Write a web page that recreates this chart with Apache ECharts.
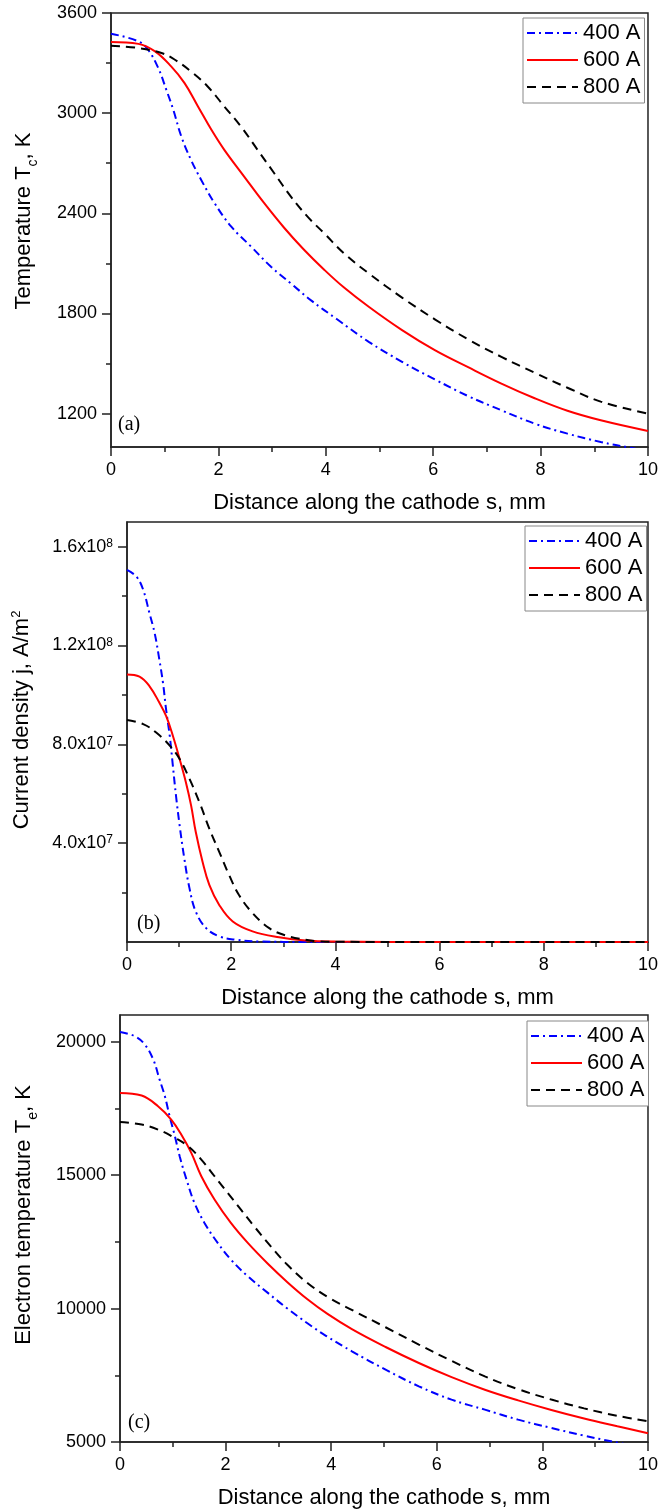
<!DOCTYPE html>
<html><head><meta charset="utf-8">
<script src="https://cdn.jsdelivr.net/npm/echarts@6/dist/echarts.min.js"></script>
<style>html,body{margin:0;padding:0;background:#fff}#c{width:661px;height:1512px}</style>
</head><body><div id="c"></div>
<script>
const seriesNames = ['400 A', '600 A', '800 A'];
const xTitle = 'Distance along the cathode s, mm';
const xTickValues = [0, 2, 4, 6, 8, 10];
const xMinorValues = [1, 3, 5, 7, 9];

// Panel (a): cathode temperature, K
const a400x = [0, 0.51, 0.69, 0.88, 1.03, 1.16, 1.31, 1.49, 1.68, 1.93, 2.24, 2.61, 2.98, 3.35, 3.72, 4.21, 4.8, 5.42, 6.03, 6.65, 7.27, 7.89, 8.5, 9.12, 9.68, 10];
const a400y = [3476, 3430, 3380, 3270, 3140, 3020, 2860, 2720, 2600, 2460, 2320, 2200, 2080, 1980, 1880, 1765, 1630, 1510, 1405, 1305, 1220, 1140, 1080, 1030, 995, 975];
const a600x = [0, 0.51, 0.82, 1.12, 1.37, 1.62, 1.87, 2.11, 2.48, 2.85, 3.22, 3.59, 3.97, 4.34, 4.8, 5.42, 6.03, 6.65, 7.27, 7.89, 8.5, 9.12, 10];
const a600y = [3426, 3415, 3370, 3280, 3180, 3040, 2900, 2780, 2620, 2462, 2315, 2183, 2062, 1955, 1840, 1700, 1580, 1478, 1380, 1292, 1217, 1160, 1096];
const a800x = [0, 0.51, 0.94, 1.19, 1.49, 1.8, 2.11, 2.42, 2.73, 3.04, 3.35, 3.66, 3.97, 4.34, 4.8, 5.42, 6.03, 6.65, 7.27, 7.89, 8.5, 9.12, 10];
const a800y = [3404, 3390, 3360, 3320, 3250, 3160, 3040, 2920, 2780, 2640, 2500, 2380, 2280, 2160, 2040, 1895, 1765, 1645, 1540, 1445, 1355, 1272, 1200];
const aYTicks = [1200, 1800, 2400, 3000, 3600];
const aYMinor = [1500, 2100, 2700, 3300];

// Panel (b): current density, A/m^2
const b400x = [0, 0.18, 0.31, 0.43, 0.53, 0.62, 0.69, 0.75, 0.82, 0.88, 0.94, 1.01, 1.1, 1.2, 1.32, 1.52, 1.77, 2.09, 2.54, 3, 4, 6, 8, 10];
const b400y = [15.06e7, 14.79e7, 14.26e7, 13.32e7, 12.51e7, 11.44e7, 10.5e7, 9.42e7, 8.35e7, 7.14e7, 5.93e7, 4.72e7, 3.38e7, 2.17e7, 1.23e7, 0.56e7, 0.23e7, 0.09e7, 0.02e7, 0.005e7, 0, 0, 0, 0];
const b600x = [0, 0.24, 0.43, 0.62, 0.75, 0.88, 1.01, 1.13, 1.23, 1.32, 1.45, 1.58, 1.77, 2.03, 2.41, 2.92, 3.43, 4, 6, 8, 10];
const b600y = [10.83e7, 10.74e7, 10.36e7, 9.69e7, 9.15e7, 8.35e7, 7.41e7, 6.47e7, 5.53e7, 4.45e7, 3.25e7, 2.31e7, 1.5e7, 0.83e7, 0.43e7, 0.19e7, 0.06e7, 0.02e7, 0, 0, 0];
const b800x = [0, 0.31, 0.56, 0.82, 1.01, 1.2, 1.39, 1.58, 1.77, 1.96, 2.15, 2.41, 2.73, 3.04, 3.43, 3.68, 4, 6, 8, 10];
const b800y = [8.99e7, 8.82e7, 8.48e7, 7.95e7, 7.41e7, 6.6e7, 5.66e7, 4.59e7, 3.65e7, 2.71e7, 1.9e7, 1.17e7, 0.56e7, 0.27e7, 0.09e7, 0.03e7, 0.01e7, 0, 0, 0];
const bYTicks = [4e7, 8e7, 1.2e8, 1.6e8];
const bYMant = ['4.0', '8.0', '1.2', '1.6'];
const bYExp = ['7', '7', '8', '8'];
const bYMinor = [2e7, 6e7, 1e8, 1.4e8];

// Panel (c): electron temperature, K
const c400x = [0, 0.28, 0.47, 0.63, 0.75, 0.85, 0.94, 1.04, 1.13, 1.26, 1.41, 1.6, 1.85, 2.1, 2.42, 2.8, 3.17, 3.55, 3.9, 4.4, 5.03, 5.66, 6.28, 6.91, 7.54, 8.17, 8.79, 9.3, 10];
const c400y = [20366, 20204, 19892, 19330, 18580, 17956, 17206, 16457, 15708, 14833, 13959, 13209, 12460, 11836, 11211, 10587, 10000, 9450, 8980, 8390, 7711, 7087, 6587, 6213, 5838, 5526, 5238, 5026, 4740];
const c600x = [0, 0.41, 0.72, 0.97, 1.16, 1.35, 1.54, 1.79, 2.1, 2.42, 2.8, 3.17, 3.55, 3.93, 4.4, 5.03, 5.66, 6.28, 6.91, 7.54, 8.17, 8.79, 9.42, 10];
const c600y = [18081, 17981, 17581, 17081, 16519, 15832, 14958, 14084, 13209, 12460, 11680, 10990, 10350, 9800, 9220, 8560, 7960, 7430, 6960, 6560, 6200, 5880, 5590, 5330];
const c800x = [0, 0.41, 0.72, 1.04, 1.29, 1.54, 1.79, 2.04, 2.29, 2.54, 2.86, 3.17, 3.55, 3.96, 4.4, 5.03, 5.66, 6.28, 6.91, 7.54, 8.17, 8.79, 9.42, 10];
const c800y = [16994, 16894, 16707, 16394, 16082, 15582, 14958, 14333, 13709, 13084, 12320, 11640, 10960, 10400, 9940, 9300, 8650, 8040, 7460, 6980, 6590, 6260, 5980, 5780];
const cYTicks = [5000, 10000, 15000, 20000];
const cYMinor = [7500, 12500, 17500];

const FONT = '"Liberation Sans", Arial, Helvetica, sans-serif';
const SERIF = '"Liberation Serif", "Times New Roman", serif';
const AX = '#222';
const lineStyles = [
  { color: '#0000ff', type: [8, 4, 2, 4] },
  { color: '#ff0000', type: 'solid' },
  { color: '#000000', type: [9, 6] }
];
function zip(xs, ys) { return xs.map((x, i) => [x, ys[i]]); }

const panels = [
  { grid: { left: 111, top: 13, right: 10, height: 434 }, yMin: 1000, yMax: 3600, yTicks: aYTicks, yMinor: aYMinor,
    yName: '{m|Temperature T}{s|c}{m|, K}', nameGap: 76, namePad: 18,
    data: [zip(a400x, a400y), zip(a600x, a600y), zip(a800x, a800y)],
    legend: { left: 523, top: 18 }, tag: '(a)', tagX: 118, tagY: 425 },
  { grid: { left: 127, top: 522, right: 10, height: 420 }, yMin: 0, yMax: 1.7e8, yTicks: bYTicks, yMinor: bYMinor,
    yName: '{m|Current density j, A/m}{p|2}', nameGap: 94, namePad: 24, sci: true,
    data: [zip(b400x, b400y), zip(b600x, b600y), zip(b800x, b800y)],
    legend: { left: 525, top: 526 }, tag: '(b)', tagX: 137, tagY: 924 },
  { grid: { left: 120, top: 1015, right: 10, height: 427 }, yMin: 5000, yMax: 21000, yTicks: cYTicks, yMinor: cYMinor,
    yName: '{m|Electron temperature T}{s|e}{m|, K}', nameGap: 85, namePad: 27,
    data: [zip(c400x, c400y), zip(c600x, c600y), zip(c800x, c800y)],
    legend: { left: 527, top: 1021 }, tag: '(c)', tagX: 128, tagY: 1423 }
];

const grid = [], xAxis = [], yAxis = [], series = [], legend = [], graphic = [];
const tickLine = { color: AX, width: 1.5 };
panels.forEach((p, gi) => {
  grid.push(Object.assign({ show: true, borderColor: AX, borderWidth: 1.5, containLabel: false }, p.grid));
  xAxis.push({
    type: 'value', gridIndex: gi, position: 'bottom', min: 0, max: 10, interval: 2,
    name: xTitle, nameLocation: 'middle', nameGap: 45,
    nameTextStyle: { fontSize: 22, lineHeight: 22, fontFamily: FONT, color: '#000' },
    axisLine: { show: true, onZero: false, lineStyle: tickLine },
    axisTick: { show: true, length: 9, lineStyle: tickLine, customValues: xTickValues },
    axisLabel: { customValues: xTickValues, margin: 14, fontSize: 18, lineHeight: 18, fontFamily: FONT, color: '#000',
      formatter: v => String(v) },
    splitLine: { show: false }
  });
  xAxis.push({
    type: 'value', gridIndex: gi, position: 'bottom', min: 0, max: 10,
    axisLine: { show: false }, axisLabel: { show: false }, splitLine: { show: false },
    axisTick: { show: true, length: 5, lineStyle: tickLine, customValues: xMinorValues }
  });
  const labelOpt = { customValues: p.yTicks, margin: 14, fontSize: 18, lineHeight: 18, fontFamily: FONT, color: '#000',
    formatter: v => String(v) };
  if (p.sci) {
    labelOpt.formatter = function (v) {
      let i = p.yTicks.findIndex(t => Math.abs(t - v) < 1);
      return '{m|' + bYMant[i] + 'x10}{e|' + bYExp[i] + '}';
    };
    labelOpt.rich = {
      m: { fontSize: 18, lineHeight: 18, fontFamily: FONT, color: '#000' },
      e: { fontSize: 12, lineHeight: 12, padding: [0, 0, 6, 0], fontFamily: FONT, color: '#000' }
    };
  }
  yAxis.push({
    type: 'value', gridIndex: gi, position: 'left', min: p.yMin, max: p.yMax,
    name: p.yName, nameLocation: 'middle', nameGap: p.nameGap,
    nameTextStyle: {
      fontSize: 22, fontFamily: FONT, color: '#000', padding: [0, 0, 0, p.namePad],
      rich: {
        m: { fontSize: 22, lineHeight: 22, fontFamily: FONT, color: '#000' },
        s: { fontSize: 14, lineHeight: 14, padding: [18, 0, 0, 0], fontFamily: FONT, color: '#000' },
        p: { fontSize: 13, lineHeight: 13, padding: [0, 0, 11, 0], fontFamily: FONT, color: '#000' }
      }
    },
    axisLine: { show: true, onZero: false, lineStyle: tickLine },
    axisTick: { show: true, length: 9, lineStyle: tickLine, customValues: p.yTicks },
    axisLabel: labelOpt,
    splitLine: { show: false }
  });
  yAxis.push({
    type: 'value', gridIndex: gi, position: 'left', min: p.yMin, max: p.yMax,
    axisLine: { show: false }, axisLabel: { show: false }, splitLine: { show: false },
    axisTick: { show: true, length: 5, lineStyle: tickLine, customValues: p.yMinor }
  });
  p.data.forEach((d, si) => {
    series.push({
      type: 'line', name: seriesNames[si], xAxisIndex: gi * 2, yAxisIndex: gi * 2,
      data: d, showSymbol: false, symbol: 'none', smooth: 0.4, clip: true,
      lineStyle: { color: lineStyles[si].color, width: 2, type: lineStyles[si].type },
      itemStyle: { color: lineStyles[si].color }, z: 3
    });
  });
  legend.push({
    orient: 'vertical', left: p.legend.left, top: p.legend.top, selectedMode: false,
    itemWidth: 51, itemHeight: 14, itemGap: 5, padding: [4, 4, 5, 3],
    borderColor: '#888', borderWidth: 1, backgroundColor: '#fff',
    itemStyle: { opacity: 0, borderWidth: 0 },
    textStyle: { fontSize: 22, lineHeight: 22, fontFamily: FONT, color: '#000' },
    data: seriesNames
  });
  graphic.push({
    type: 'text', x: p.tagX, y: p.tagY, z: 10,
    style: { text: p.tag, fontSize: 20, fontFamily: SERIF, fill: '#000', verticalAlign: 'middle', align: 'left' }
  });
});

const chart = echarts.init(document.getElementById('c'), null, { renderer: 'canvas', width: 661, height: 1512 });
chart.setOption({ animation: false, backgroundColor: '#fff', grid, xAxis, yAxis, series, legend, graphic });
</script>
</body></html>
